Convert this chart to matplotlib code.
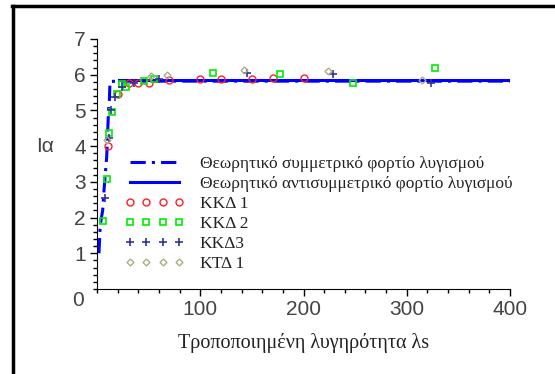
import matplotlib
matplotlib.use('Agg')
import matplotlib.pyplot as plt
from matplotlib.lines import Line2D
from matplotlib.ticker import MultipleLocator

# θεωρητικές καμπύλες
sym_x = [1.9, 2.9, 4.0, 5.5, 6.8, 8.0, 9.4, 10.4, 11.2, 12.0, 12.6, 20, 400]
sym_y = [1.0, 1.65, 1.95, 2.2, 2.77, 3.2, 3.7, 4.45, 5.0, 5.3, 5.81, 5.82, 5.82]
anti_x = [21, 400]
anti_y = [5.85, 5.85]

# πειραματικά αποτελέσματα
kkd1_x = [10.6, 20, 31, 40, 50, 70, 100, 120, 150, 170, 200]
kkd1_y = [4.0, 5.45, 5.78, 5.78, 5.76, 5.85, 5.88, 5.88, 5.88, 5.92, 5.92]
kkd2_x = [5.6, 9.5, 12.0, 14.4, 19.8, 24.0, 27.8, 46, 55, 112, 177, 248, 327]
kkd2_y = [1.9, 3.08, 4.36, 4.96, 5.45, 5.74, 5.67, 5.83, 5.89, 6.06, 6.02, 5.78, 6.2]
kkd3_x = [7.8, 11.6, 13.4, 17.4, 24.3, 35.6, 60.3, 145, 229, 323.5]
kkd3_y = [2.54, 4.22, 5.01, 5.39, 5.65, 5.76, 5.88, 6.05, 6.02, 5.77]
ktd1_x = [10.0, 52, 68, 142, 224, 315]
ktd1_y = [4.17, 5.96, 5.98, 6.13, 6.1, 5.85]

labels = ["Θεωρητικό συμμετρικό φορτίο λυγισμού",
          "Θεωρητικό αντισυμμετρικό φορτίο λυγισμού",
          "ΚΚΔ 1", "ΚΚΔ 2", "ΚΚΔ3", "ΚΤΔ 1"]

fig = plt.figure(figsize=(5.55, 3.74), dpi=100)
fig.patch.set_facecolor('white')
ax = fig.add_axes([97 / 555, 1 - 289 / 374, 413 / 555, 250 / 374])

ax.plot(sym_x, sym_y, color='#0000ff', lw=2.2, ls=(0, (5, 2, 1, 2)), label=labels[0])
ax.plot(anti_x, anti_y, color='#0000ff', lw=2.2, label=labels[1])
ax.plot(kkd1_x, kkd1_y, 'o', ls='none', ms=5, mfc='none', mec='#ff2020', mew=1, label=labels[2])
ax.plot(kkd2_x, kkd2_y, 's', ls='none', ms=5, mfc='none', mec='#00ee00', mew=1.2, label=labels[3])
ax.plot(kkd3_x, kkd3_y, '+', ls='none', ms=6, mec='#33339a', mew=1.2, label=labels[4])
ax.plot(ktd1_x, ktd1_y, 'D', ls='none', ms=3.5, mfc='none', mec='#b0aa88', mew=1, label=labels[5])

ax.set_xlim(0, 400)
ax.set_ylim(0, 7)
for s in ['top', 'right']:
    ax.spines[s].set_visible(False)
ax.xaxis.set_major_locator(MultipleLocator(100))
ax.xaxis.set_minor_locator(MultipleLocator(20))
ax.set_yticks([1, 2, 3, 4, 5, 6, 7])
ax.yaxis.set_minor_locator(MultipleLocator(0.2))
ax.set_xticks([100, 200, 300, 400])
ax.tick_params(which='major', length=5, width=1, labelsize=15, pad=3)
ax.tick_params(which='minor', length=3, width=1)
for lab in ax.get_xticklabels() + ax.get_yticklabels():
    lab.set_family('Liberation Sans')
    lab.set_color('#444444')
ax.annotate('0', xy=(0, 0), xytext=(-14, -8), textcoords='offset points',
            ha='center', va='center', fontsize=15, family='Liberation Sans', color='#444444')

ax.set_xlabel("Τροποποιημένη λυγηρότητα λs", family='Liberation Serif', fontsize=14.5,
              labelpad=10, color='#222222')
fig.text(45 / 555, 1 - 147 / 374, "Iα", family='Liberation Sans', fontsize=15,
         ha='center', va='center', color='#444444')

leg = ax.legend(loc='upper left', bbox_to_anchor=(125 / 555, 1 - 156 / 374),
                bbox_transform=fig.transFigure, frameon=False, numpoints=4,
                handlelength=3.4, handletextpad=0.9, labelspacing=0.22,
                borderpad=0, borderaxespad=0,
                prop={'family': 'Liberation Serif', 'size': 12.5})
for t in leg.get_texts():
    t.set_color('#222222')

# μαύρο πλαίσιο πάνω και αριστερά
fig.add_artist(Line2D([13 / 555, 13 / 555], [0, 1 - 6 / 374], color='black', lw=2.5,
                      transform=fig.transFigure))
fig.add_artist(Line2D([12 / 555, 1], [1 - 6 / 374, 1 - 6 / 374], color='black', lw=2.5,
                      transform=fig.transFigure))

fig.savefig('out.png', dpi=100)
